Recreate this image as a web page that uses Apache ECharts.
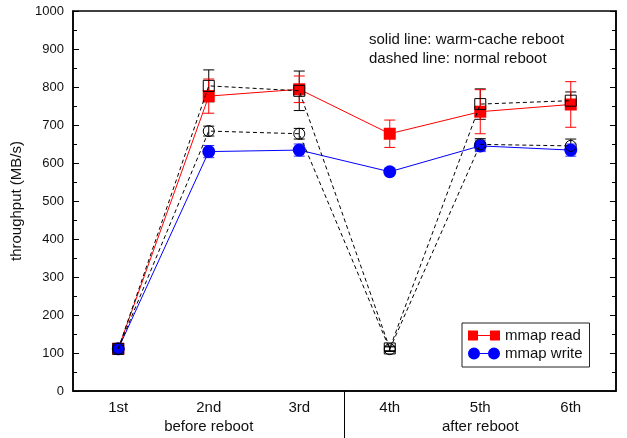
<!DOCTYPE html>
<html><head><meta charset="utf-8">
<script src="https://cdn.jsdelivr.net/npm/echarts@6/dist/echarts.min.js"></script>
<style>html,body{margin:0;padding:0;background:#fff}#c{width:627px;height:438px}</style>
</head><body><div id="c"></div>
<script>
const categories = ['1st', '2nd', '3rd', '4th', '5th', '6th'];
const groups = ['before reboot', 'after reboot'];
const yTicks = [0, 100, 200, 300, 400, 500, 600, 700, 800, 900, 1000];

// solid lines: warm-cache reboot
const readWarm = [111, 776, 794, 677, 735, 754];
const readWarmErr = [3, 45, 35, 36, 58, 60];
const writeWarm = [111, 630, 634, 577, 645, 634];
const writeWarmErr = [3, 16, 16, 8, 15, 16];
// dashed lines: normal reboot
const readNormal = [111, 803, 790, 112, 755, 764];
const readNormalErr = [3, 42, 52, 6, 40, 23];
const writeNormal = [111, 684, 677, 110, 649, 645];
const writeNormalErr = [3, 13, 14, 6, 15, 18];

const FONT = 'Liberation Sans';
const chart = echarts.init(document.getElementById('c'), null, {renderer: 'canvas'});

function errSeries(name, vals, errs, color, z) {
  return {
    type: 'custom', name: name, z: z, silent: true,
    data: vals.map((v, i) => [i, v - errs[i], v + errs[i]]),
    encode: {x: 0, y: [1, 2]},
    renderItem: function (params, api) {
      const lo = api.coord([api.value(0), api.value(1)]);
      const hi = api.coord([api.value(0), api.value(2)]);
      const w = 5.5;
      const st = {stroke: color, lineWidth: 1};
      return {type: 'group', children: [
        {type: 'line', shape: {x1: lo[0], y1: lo[1], x2: hi[0], y2: hi[1]}, style: st},
        {type: 'line', shape: {x1: lo[0] - w, y1: lo[1], x2: lo[0] + w, y2: lo[1]}, style: st},
        {type: 'line', shape: {x1: hi[0] - w, y1: hi[1], x2: hi[0] + w, y2: hi[1]}, style: st}
      ]};
    }
  };
}

const yAxisBase = {
  type: 'value', min: yTicks[0], max: yTicks[yTicks.length - 1], interval: 100,
  axisLine: {show: true, lineStyle: {color: '#000', width: 1.5}},
  axisTick: {show: true, inside: true, length: 6, lineStyle: {color: '#000'}},
  minorTick: {show: true, splitNumber: 2, length: 4, lineStyle: {color: '#000'}},
  splitLine: {show: false}
};

const READ_ICON = 'path://M0,1H10V11H0Z M10,5.5H22V6.5H10Z M22,1H32V11H22Z';
const WRITE_ICON = 'path://M0,6a6,6 0 1,0 12,0a6,6 0 1,0 -12,0Z M12,5.5H20V6.5H12Z M20,6a6,6 0 1,0 12,0a6,6 0 1,0 -12,0Z';

const option = {
  animation: false,
  backgroundColor: '#fff',
  textStyle: {fontFamily: FONT},
  grid: {left: 73, right: 11, top: 11, bottom: 47, show: true, borderColor: '#000', borderWidth: 1.5},
  xAxis: [
    {type: 'category', data: categories, boundaryGap: true,
     axisLine: {show: true, lineStyle: {color: '#000', width: 1.5}},
     axisTick: {show: false},
     axisLabel: {margin: 9, fontSize: 15, color: '#111', fontFamily: FONT}},
    {type: 'category', data: groups, position: 'bottom', boundaryGap: true,
     axisLine: {show: false}, axisTick: {show: false},
     axisLabel: {margin: 28, fontSize: 15, color: '#111', fontFamily: FONT}}
  ],
  yAxis: [
    Object.assign({}, yAxisBase, {
      name: 'throughput (MB/s)', nameLocation: 'middle', nameGap: 45,
      nameTextStyle: {fontSize: 15, color: '#111', fontFamily: FONT},
      axisLabel: {margin: 9, fontSize: 13, color: '#111', fontFamily: FONT,
                  formatter: function (v) { return String(v); }}
    }),
    Object.assign({}, yAxisBase, {position: 'right', axisLabel: {show: false}})
  ],
  legend: {
    data: [{name: 'mmap read', icon: READ_ICON}, {name: 'mmap write', icon: WRITE_ICON}],
    orient: 'vertical', left: 462, top: 323,
    backgroundColor: '#fff', borderColor: '#222', borderWidth: 1,
    padding: [5, 7, 6, 6], itemGap: 3, itemWidth: 32, itemHeight: 12,
    textStyle: {fontSize: 15, color: '#111', fontFamily: FONT},
    selectedMode: false
  },
  graphic: [
    {type: 'text', left: 369, top: 32, z: 10,
     style: {text: 'solid line: warm-cache reboot', fontSize: 15, fill: '#111', fontFamily: FONT}},
    {type: 'text', left: 369, top: 51, z: 10,
     style: {text: 'dashed line: normal reboot', fontSize: 15, fill: '#111', fontFamily: FONT}}
  ],
  series: [
    errSeries('err read normal', readNormal, readNormalErr, '#000', 3),
    errSeries('err write normal', writeNormal, writeNormalErr, '#000', 3),
    errSeries('err read warm', readWarm, readWarmErr, '#f00', 3),
    errSeries('err write warm', writeWarm, writeWarmErr, '#33f', 3),
    {name: 'mmap read', type: 'line', data: readWarm, z: 4,
     symbol: 'rect', symbolSize: 12, showAllSymbol: true,
     itemStyle: {color: '#f00'}, lineStyle: {color: '#f00', width: 1}},
    {name: 'mmap write', type: 'line', data: writeWarm, z: 4,
     symbol: 'circle', symbolSize: 13, showAllSymbol: true,
     itemStyle: {color: '#00f'}, lineStyle: {color: '#00f', width: 1}},
    {name: 'mmap read (normal reboot)', type: 'line', data: readNormal, z: 5,
     symbol: 'rect', symbolSize: 11, showAllSymbol: true,
     itemStyle: {color: 'rgba(255,255,255,0)', borderColor: '#000', borderWidth: 1},
     lineStyle: {color: '#000', width: 1, type: [4, 3]}},
    {name: 'mmap write (normal reboot)', type: 'line', data: writeNormal, z: 5,
     symbol: 'circle', symbolSize: 11, showAllSymbol: true,
     itemStyle: {color: 'rgba(255,255,255,0)', borderColor: '#000', borderWidth: 1},
     lineStyle: {color: '#000', width: 1, type: [4, 3]}}
  ]
};
chart.setOption(option);

// separator between the "before reboot" and "after reboot" groups
const xa = chart.convertToPixel({xAxisIndex: 0}, categories[2]);
const xb = chart.convertToPixel({xAxisIndex: 0}, categories[3]);
const y0 = chart.convertToPixel({yAxisIndex: 0}, 0);
const sepX = (xa + xb) / 2;
chart.setOption({graphic: option.graphic.concat([
  {type: 'line', z: 10, shape: {x1: sepX, y1: y0, x2: sepX, y2: 438}, style: {stroke: '#000', lineWidth: 1}}
])});
</script>
</body></html>
